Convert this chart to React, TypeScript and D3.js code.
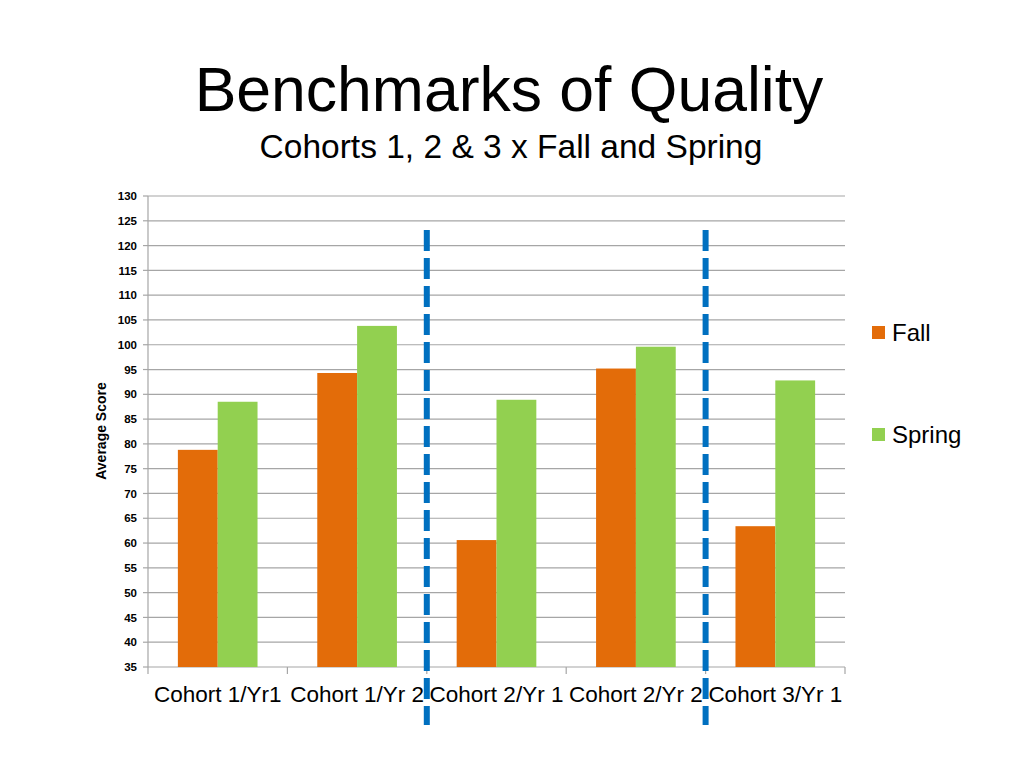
import React from "react";
import * as d3 from "d3";

const categories = ["Cohort 1/Yr1", "Cohort 1/Yr 2", "Cohort 2/Yr 1", "Cohort 2/Yr 2", "Cohort 3/Yr 1"];
const fallValues = [78.8, 94.3, 60.6, 95.2, 63.4];
const springValues = [88.5, 103.8, 88.9, 99.6, 92.8];
const seriesNames = ["Fall", "Spring"];
const yTicks = d3.range(35, 131, 5);
const dividerAfter = [1, 3];

const width = 1024;
const height = 768;
const plot = { left: 148, right: 845, top: 196, bottom: 667 };
const colors = { Fall: "#E36C09", Spring: "#92D050" };
const font = "'Liberation Sans', Arial, sans-serif";

const App = () => {
  const x = d3.scaleBand().domain(categories).range([plot.left, plot.right]);
  const barW = x.bandwidth() / 3.5;
  const y = d3.scaleLinear().domain([35, 130]).range([plot.bottom, plot.top]);
  const series = [fallValues, springValues];

  return (
    <div style={{ position: "absolute", left: 0, top: 0 }}>
      <svg width={width} height={height} style={{ display: "block", background: "#fff" }}>
        {/* titles */}
        <text x={509} y={111} textAnchor="middle" fontFamily={font} fontSize={62.5} fill="#000">
          Benchmarks of Quality
        </text>
        <text x={511} y={158} textAnchor="middle" fontFamily={font} fontSize={33.5} fill="#000">
          Cohorts 1, 2 &amp; 3 x Fall and Spring
        </text>

        {/* gridlines + y ticks */}
        {yTicks.map((t) => (
          <g key={t}>
            <line x1={plot.left} x2={plot.right} y1={y(t)} y2={y(t)} stroke="#A6A6A6" strokeWidth={1.2} />
            <line x1={plot.left - 5} x2={plot.left} y1={y(t)} y2={y(t)} stroke="#A6A6A6" strokeWidth={1.2} />
            <text
              x={137}
              y={y(t)}
              dy="0.36em"
              textAnchor="end"
              fontFamily={font}
              fontWeight="bold"
              fontSize={11.5}
              fill="#000"
            >
              {t}
            </text>
          </g>
        ))}
        <line x1={plot.left} x2={plot.left} y1={plot.top} y2={plot.bottom} stroke="#A6A6A6" strokeWidth={1.2} />

        {/* x axis ticks */}
        {[...categories.map((c) => x(c) as number), plot.right].map((px, i) => (
          <line key={i} x1={px} x2={px} y1={plot.bottom} y2={plot.bottom + 7} stroke="#A6A6A6" strokeWidth={1.2} />
        ))}

        {/* y axis title */}
        <text
          transform={`translate(106, 431) rotate(-90)`}
          textAnchor="middle"
          fontFamily={font}
          fontWeight="bold"
          fontSize={14}
          fill="#000"
        >
          Average Score
        </text>

        {/* bars */}
        {categories.map((c, i) =>
          series.map((vals, s) => {
            const x0 = (x(c) as number) + barW * 0.75 + s * barW;
            return (
              <rect
                key={c + s}
                x={x0}
                y={y(vals[i])}
                width={barW}
                height={plot.bottom - y(vals[i])}
                fill={colors[seriesNames[s]]}
              />
            );
          })
        )}

        {/* category labels */}
        {categories.map((c) => (
          <text
            key={c}
            x={(x(c) as number) + x.bandwidth() / 2}
            y={702}
            textAnchor="middle"
            fontFamily={font}
            fontSize={22.5}
            fill="#000"
          >
            {c}
          </text>
        ))}

        {/* dashed dividers */}
        {dividerAfter.map((i) => {
          const px = (x(categories[i]) as number) + x.bandwidth();
          return (
            <line
              key={i}
              x1={px}
              x2={px}
              y1={230}
              y2={725}
              stroke="#0070C0"
              strokeWidth={6}
              strokeDasharray="21 7"
            />
          );
        })}

        {/* legend */}
        {seriesNames.map((name, i) => (
          <g key={name} transform={`translate(872, ${326 + i * 102})`}>
            <rect x={0} y={0} width={13} height={13} fill={colors[name]} />
            <text x={20} y={15} fontFamily={font} fontSize={24} fill="#000">
              {name}
            </text>
          </g>
        ))}
      </svg>
    </div>
  );
};

export default App;
